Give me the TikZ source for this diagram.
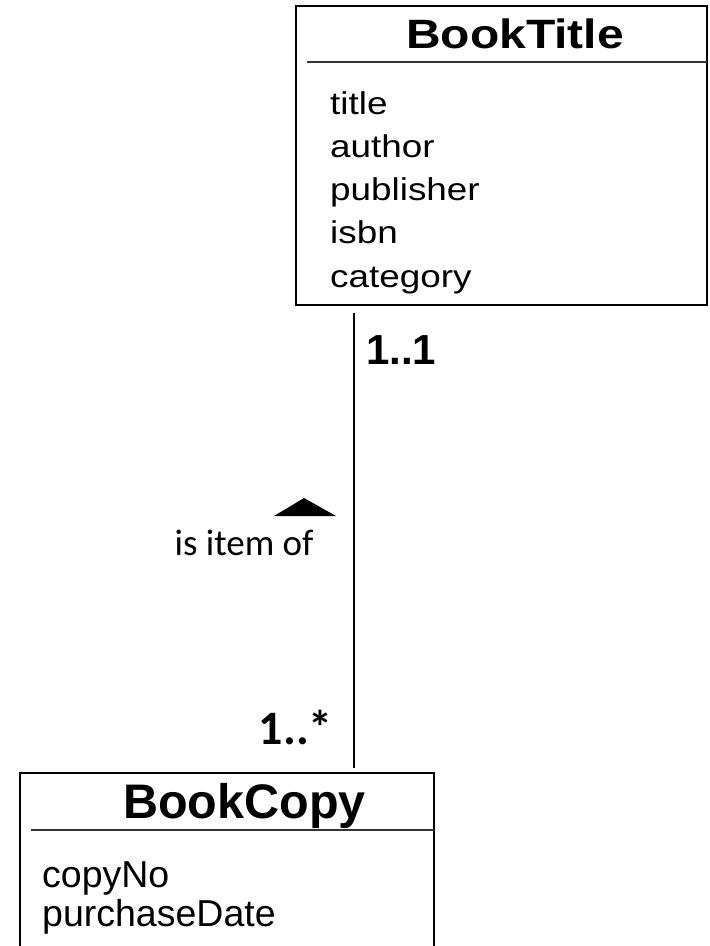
\documentclass[tikz,border=0pt]{standalone}
\usepackage{fontspec}
\setmainfont{Liberation Sans}
\newfontfamily\widefont[FakeStretch=1.17]{Liberation Sans}
\newfontfamily\calfont{Carlito}
\begin{document}
\begin{tikzpicture}[x=1pt,y=-1pt,
  classbox/.style={draw, line width=2.6pt, rectangle, inner sep=0pt},
  divider/.style={line width=1.4pt, draw=black!80},
  assoc/.style={line width=1.3pt},
  ctitleW/.style={font=\widefont\fontsize{41}{48}\selectfont\bfseries, anchor=base, inner sep=0pt},
  attrW/.style={font=\widefont\fontsize{31.5}{38}\selectfont, anchor=base west, inner sep=0pt},
  ctitle/.style={font=\fontsize{48.5}{56}\selectfont\bfseries, anchor=base, inner sep=0pt},
  attr/.style={font=\fontsize{37.5}{44}\selectfont, anchor=base west, inner sep=0pt},
  multA/.style={font=\fontsize{42}{50}\selectfont\bfseries, inner sep=0pt},
  multB/.style={font=\calfont\fontsize{48}{54}\selectfont\bfseries, inner sep=0pt},
  rolelabel/.style={font=\calfont\fontsize{37}{44}\selectfont, anchor=base, inner sep=0pt}
]
\useasboundingbox (0,0) rectangle (710,946);
\clip (0,0) rectangle (710,946);
% BookTitle class
\node[classbox, minimum width=411pt, minimum height=299pt] (bt) at (501.5,155.5) {};
\node[ctitleW] (btname) at (515,48.5) {BookTitle};
\draw[divider] (307,62) -- (707,62);
\node[attrW] (a1) at (330,114) {title};
\node[attrW] (a2) at (330,157.3) {author};
\node[attrW] (a3) at (330,200.6) {publisher};
\node[attrW] (a4) at (330,243.9) {isbn};
\node[attrW] (a5) at (330,287.2) {category};
% BookCopy class
\node[classbox, minimum width=414pt, minimum height=227pt] (bc) at (227,886.5) {};
\node[ctitle] (bcname) at (244.5,818) {BookCopy};
\draw[divider] (31,830) -- (434,830);
\node[attr] (b1) at (42,887) {copyNo};
\node[attr] (b2) at (42,926) {purchaseDate};
% association
\coordinate (assocTop) at (354,313);
\coordinate (assocBot) at (354,768);
\draw[assoc] (assocTop) -- (assocBot);
\node[multA, anchor=base west] (m1) at (366,364) {1..1};
\node[multB, anchor=base east] (m2) at (333,744) {1..*};
\fill (274,516) -- (304,498) -- (336,516) -- cycle;
\node[rolelabel] (role) at (244,555) {is item of};
\end{tikzpicture}
\end{document}
